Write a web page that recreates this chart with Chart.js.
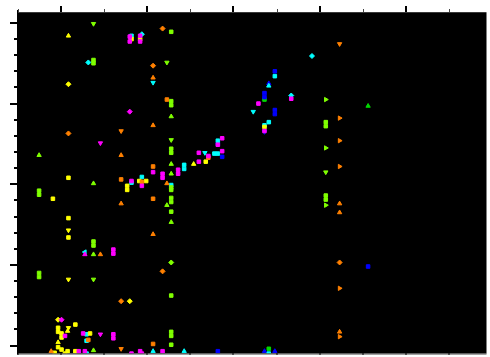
<!DOCTYPE html>
<html>
<head>
<meta charset="utf-8">
<script src="https://cdn.jsdelivr.net/npm/chart.js@4/dist/chart.umd.min.js"></script>
<style>
  html, body { margin: 0; padding: 0; background: #fff; }
  #wrap { width: 490px; height: 357px; }
</style>
</head>
<body>
<div id="wrap"><canvas id="c" width="490" height="357"></canvas></div>
<script>
// Marker codes: ^ up, v down, > right, < left, s square, d diamond
const yellowX = [1.09,1.82,1.92,1.09,2.54,1.09,2.68,1.91,1.99,1.77,1.77,0.91,1.09,1.09,1.09,1.09,1.80,0.97,1.17,1.09,0.97,0.97,1.08,1.01,1.01,0.97,0.97,1.01,1.08,1.17,0.93,1.05,3.36,1.34];
const yellowY = [3.84,3.80,3.80,3.24,2.25,2.08,2.28,2.04,2.04,1.98,1.93,1.82,1.58,1.43,1.34,0.82,0.55,0.32,0.26,0.22,0.22,0.17,0.18,0.15,0.10,0.04,-0.02,-0.05,-0.07,-0.07,-0.09,-0.10,2.71,0.15];
const yellowM = ['^','s','s','d','^','s','s','s','s','s','s','s','s','v','s','v','d','d','s','v','s','s','^','s','s','^','s','s','s','s','s','s','s','s'];

const orangeX = [2.18,2.07,2.07,2.23,2.07,1.09,1.70,1.70,2.07,1.94,1.70,2.23,2.07,1.70,2.07,1.46,2.18,1.70,2.07,1.70,0.89,4.23,4.23,4.23,4.23,4.23,4.23,4.23,4.23,4.23,4.23,1.32,2.71];
const orangeY = [3.93,3.47,3.32,3.05,2.73,2.63,2.66,2.36,2.22,2.03,2.06,2.01,1.82,1.76,1.38,1.13,0.92,0.55,0.02,-0.04,-0.07,3.74,2.82,2.54,2.22,1.76,1.65,1.03,0.71,0.17,0.11,0.07,2.33];
const orangeM = ['d','d','^','s','^','d','v','^','s','s','s','^','s','^','^','^','d','d','s','v','^','v','>','>','>','^','^','d','>','^','>','s','s'];

const limeX = [1.38,2.28,1.38,1.38,2.23,2.28,2.28,2.28,2.28,2.28,2.28,2.28,2.28,0.75,1.38,2.28,2.28,0.75,0.75,2.28,2.28,2.23,2.28,2.28,1.38,1.38,1.38,2.28,0.75,0.75,1.38,2.28,2.28,2.28,2.28,1.38,4.07,4.07,4.07,4.07,4.07,4.07,4.07,4.07];
const limeY = [3.99,3.89,3.54,3.50,3.51,3.03,2.98,2.84,2.55,2.44,2.39,2.25,2.13,2.36,2.01,1.96,1.93,1.92,1.87,1.83,1.78,1.74,1.66,1.53,1.29,1.24,1.13,1.03,0.90,0.85,0.82,0.62,0.17,0.12,0.01,-0.06,3.05,2.77,2.72,2.45,2.15,1.86,1.81,1.74];
const limeM = ['v','s','s','s','v','s','s','^','v','s','s','^','^','^','^','s','s','s','s','s','s','^','s','^','s','s','^','d','s','s','v','s','s','s','s','^','>','s','s','>','v','s','s','>'];

const greenX = [4.56,3.36,3.41];
const greenY = [2.97,3.05,-0.04];
const greenM = ['^','s','s'];

const magentaX = [1.80,1.80,1.92,1.92,1.80,1.46,2.07,2.18,2.18,2.36,2.36,1.82,1.94,2.60,2.60,2.71,2.82,2.87,2.87,1.61,1.61,1.28,1.01,1.05,1.46,1.61,1.61,1.26,1.21,1.28,1.82,1.92,1.94,2.18,3.29,3.67,3.36];
const magentaY = [3.83,3.77,3.84,3.77,2.90,2.51,2.15,2.13,2.08,2.18,2.13,2.04,1.98,2.39,2.28,2.35,2.49,2.57,2.41,1.19,1.14,1.13,0.32,0.12,0.14,0.14,0.09,0.15,-0.07,-0.07,-0.10,-0.07,-0.10,-0.07,3.00,3.06,2.66];
const magentaM = ['s','s','s','s','d','v','s','s','s','s','s','s','s','s','s','s','s','s','s','s','s','^','d','s','v','s','s','s','s','s','s','s','s','s','s','s','s'];

const cyanX = [1.94,1.82,1.32,2.07,2.43,2.43,1.94,1.82,2.28,2.67,2.82,2.82,2.78,1.28,1.30,1.30,1.30,2.07,2.43,3.91,3.48,3.41,3.23,3.41,3.36,3.67,3.41];
const cyanY = [3.86,3.84,3.51,3.26,2.24,2.19,2.09,2.02,1.99,2.39,2.54,2.38,2.38,1.16,0.14,0.06,-0.10,-0.07,-0.07,3.59,3.34,3.22,2.90,2.77,2.73,3.10,-0.10];
const cyanM = ['d','s','d','v','s','s','s','s','s','v','s','s','s','<','s','s','s','^','^','d','s','^','v','s','s','d','s'];

const blueX = [2.82,2.87,3.48,3.41,3.36,3.36,3.48,3.48,3.36,4.56,3.36,3.48,2.82];
const blueY = [2.50,2.34,3.40,3.25,3.13,3.08,2.92,2.87,2.65,0.98,-0.07,-0.07,-0.07];
const blueM = ['s','s','s','^','s','s','s','s','v','s','^','^','s'];

// Axis ticks (data units)
const xMajorTicks = [1, 2, 3, 4, 5];
const xMinorTicks = [0.5, 1.5, 2.5, 3.5, 4.5, 5.5];
const yMajorTicks = [0, 1, 2, 3, 4];
const yMinorTicks = [0.2,0.4,0.6,0.8,1.2,1.4,1.6,1.8,2.2,2.4,2.6,2.8,3.2,3.4,3.6,3.8];

const styleFor = { '^': ['triangle', 0], 'v': ['triangle', 180], '>': ['triangle', 90], '<': ['triangle', 270], 's': ['rect', 0], 'd': ['rectRot', 0] };

function series(xs, ys, marks, color) {
  return {
    data: xs.map((x, i) => ({ x: x, y: ys[i] })),
    pointStyle: marks.map(m => styleFor[m][0]),
    rotation: marks.map(m => styleFor[m][1]),
    backgroundColor: color,
    borderColor: color,
    borderWidth: 1,
    pointRadius: 2.5,
    pointHoverRadius: 2.5,
    showLine: false,
    clip: 0
  };
}

// Black plot area, frame and tick marks drawn from the scales
const framePlugin = {
  id: 'frame',
  beforeDatasetsDraw(chart) {
    const a = chart.chartArea, ctx = chart.ctx;
    ctx.save();
    ctx.fillStyle = '#000';
    ctx.fillRect(a.left, a.top, a.right - a.left, a.bottom - a.top);
    ctx.restore();
  },
  afterDraw(chart) {
    const a = chart.chartArea, ctx = chart.ctx;
    const xs = chart.scales.x, ys = chart.scales.y;
    ctx.save();
    // top border
    ctx.fillStyle = '#3a3a3a';
    ctx.fillRect(a.left, a.top - 1, a.right - a.left, 1);
    // left border
    ctx.fillStyle = '#000';
    ctx.fillRect(a.left - 1, a.top - 3, 1, a.bottom - a.top + 4);
    // bottom border with breaks at the ticks
    ctx.fillStyle = '#454545';
    ctx.fillRect(a.left, a.bottom, a.right - a.left, 1);
    ctx.fillStyle = '#000';
    xMajorTicks.concat(xMinorTicks).forEach(v => {
      const px = Math.round(xs.getPixelForValue(v));
      ctx.fillRect(px - 1, a.bottom, 2, 1);
    });
    // top ticks
    xMajorTicks.forEach(v => {
      const px = Math.round(xs.getPixelForValue(v));
      ctx.fillStyle = '#000';
      ctx.fillRect(px - 1, a.top - 7, 2, 6);
    });
    xMinorTicks.forEach(v => {
      const px = Math.round(xs.getPixelForValue(v));
      if (px < a.left || px > a.right) return;
      ctx.fillStyle = '#444';
      ctx.fillRect(px, a.top - 4, 1, 3);
    });
    // left ticks
    ctx.fillStyle = '#000';
    yMajorTicks.forEach(v => {
      const py = Math.round(ys.getPixelForValue(v));
      ctx.fillRect(a.left - 8, py - 1, 7, 2);
    });
    yMinorTicks.forEach(v => {
      const py = Math.round(ys.getPixelForValue(v));
      ctx.fillRect(a.left - 4, py - 1, 3, 2);
    });
    ctx.restore();
  }
};

new Chart(document.getElementById('c'), {
  type: 'scatter',
  data: {
    datasets: [
      series(magentaX, magentaY, magentaM, '#ff00ff'),
      series(orangeX, orangeY, orangeM, '#ff8000'),
      series(limeX, limeY, limeM, '#80ff00'),
      series(yellowX, yellowY, yellowM, '#ffff00'),
      series(cyanX, cyanY, cyanM, '#00ffff'),
      series(blueX, blueY, blueM, '#0000ff'),
      series(greenX, greenY, greenM, '#00d800')
    ]
  },
  options: {
    responsive: false,
    animation: false,
    events: [],
    layout: { padding: { left: 18, top: 13, right: 0, bottom: 1 } },
    plugins: { legend: { display: false }, tooltip: { enabled: false } },
    scales: {
      x: { type: 'linear', display: false, min: 1 - 43 / 87, max: 1 + 429 / 87 },
      y: { type: 'linear', display: false, min: -8 / 81.25, max: 335 / 81.25 }
    }
  },
  plugins: [framePlugin]
});
</script>
</body>
</html>
